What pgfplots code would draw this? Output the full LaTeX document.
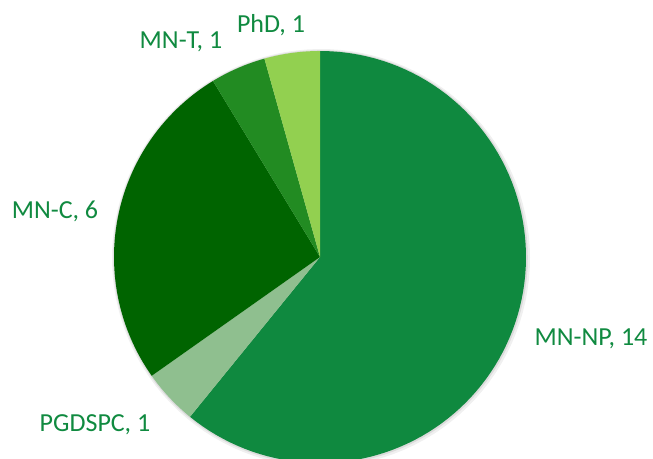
\documentclass[border=0pt]{standalone}
\usepackage{pgfplots}
\pgfplotsset{compat=1.18}
\usepackage{fontspec}
\setmainfont{Carlito}
\definecolor{cNP}{HTML}{0F893F}
\definecolor{cPG}{HTML}{8FBF8F}
\definecolor{cMC}{HTML}{006400}
\definecolor{cMT}{HTML}{228B22}
\definecolor{cPhD}{HTML}{92D050}
\definecolor{txt}{HTML}{108A40}
\begin{document}
\begin{tikzpicture}
% slice values
\def\vNP{14}\def\vPG{1}\def\vMC{6}\def\vMT{1}\def\vPhD{1}
\pgfmathsetmacro{\tot}{\vNP+\vPG+\vMC+\vMT+\vPhD}
\pgfmathsetmacro{\aA}{90}
\pgfmathsetmacro{\aB}{\aA-360*\vNP/\tot}
\pgfmathsetmacro{\aC}{\aB-360*\vPG/\tot}
\pgfmathsetmacro{\aD}{\aC-360*\vMC/\tot}
\pgfmathsetmacro{\aE}{\aD-360*\vMT/\tot}
\pgfmathsetmacro{\aF}{\aE-360*\vPhD/\tot}
\begin{axis}[
  scale only axis, width=489.75pt, height=343.5pt,
  xmin=0, xmax=653, ymin=0, ymax=458,
  hide axis, clip=true,
]
\coordinate (sw) at (axis cs:0,0);
\coordinate (ne) at (axis cs:653,458);
% soft shadow
\addplot[fill=black!6, draw=none, domain=0:360, samples=120] ({321+209*cos(x)},{200+209*sin(x)}) -- cycle;
\addplot[fill=black!14, draw=none, domain=0:360, samples=120] ({320.5+207.3*cos(x)},{200.5+207.3*sin(x)}) -- cycle;
\addplot[fill=cNP, draw=none, domain=\aB:\aA, samples=100] ({320+206*cos(x)},{201+206*sin(x)}) -- (axis cs:320,201) -- cycle;
\addplot[fill=cPG, draw=none, domain=\aC:\aB, samples=20] ({320+206*cos(x)},{201+206*sin(x)}) -- (axis cs:320,201) -- cycle;
\addplot[fill=cMC, draw=none, domain=\aD:\aC, samples=60] ({320+206*cos(x)},{201+206*sin(x)}) -- (axis cs:320,201) -- cycle;
\addplot[fill=cMT, draw=none, domain=\aE:\aD, samples=20] ({320+206*cos(x)},{201+206*sin(x)}) -- (axis cs:320,201) -- cycle;
\addplot[fill=cPhD, draw=none, domain=\aF:\aE, samples=20] ({320+206*cos(x)},{201+206*sin(x)}) -- (axis cs:320,201) -- cycle;
\begin{scope}[every node/.style={text=txt, inner sep=0pt, anchor=base, font=\fontsize{19.5}{23}\selectfont}]
\node at (axis cs:271,425) {PhD, 1};
\node at (axis cs:181,409) {MN-T, 1};
\node at (axis cs:55,240) {MN-C, 6};
\node at (axis cs:95,27) {PGDSPC, 1};
\node at (axis cs:591,113) {MN-NP, 14};
\end{scope}
\end{axis}
\pgfresetboundingbox
\path[use as bounding box] (sw) rectangle (ne);
\end{tikzpicture}
\end{document}
